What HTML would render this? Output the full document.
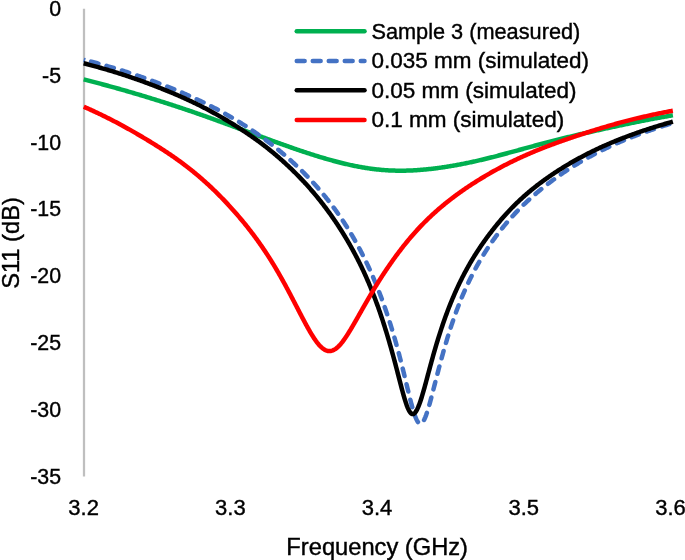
<!DOCTYPE html>
<html><head><meta charset="utf-8"><style>
html,body{margin:0;padding:0;background:#fff;overflow:hidden}
svg{display:block;will-change:transform}
text{font-family:"Liberation Sans", sans-serif;fill:#000;stroke:#000;stroke-width:0.4px}
</style></head><body>
<svg width="685" height="560" viewBox="0 0 685 560">
<rect width="685" height="560" fill="#fff"/>
<line x1="84.0" y1="8.75" x2="84.0" y2="476.4" stroke="#BFBFBF" stroke-width="2.25"/>
<g font-size="22.0"><text transform="translate(61.0,15.80) scale(0.97,1)" text-anchor="end">0</text><text transform="translate(61.0,82.66) scale(0.97,1)" text-anchor="end">-5</text><text transform="translate(61.0,149.52) scale(0.97,1)" text-anchor="end">-10</text><text transform="translate(61.0,216.38) scale(0.97,1)" text-anchor="end">-15</text><text transform="translate(61.0,283.24) scale(0.97,1)" text-anchor="end">-20</text><text transform="translate(61.0,350.10) scale(0.97,1)" text-anchor="end">-25</text><text transform="translate(61.0,416.96) scale(0.97,1)" text-anchor="end">-30</text><text transform="translate(61.0,483.82) scale(0.97,1)" text-anchor="end">-35</text><text transform="translate(83.65,515.3) scale(1.0,1)" text-anchor="middle">3.2</text><text transform="translate(230.35,515.3) scale(1.0,1)" text-anchor="middle">3.3</text><text transform="translate(377.05,515.3) scale(1.0,1)" text-anchor="middle">3.4</text><text transform="translate(523.75,515.3) scale(1.0,1)" text-anchor="middle">3.5</text><text transform="translate(670.45,515.3) scale(1.0,1)" text-anchor="middle">3.6</text></g>
<text x="377.2" y="555" font-size="23.7" text-anchor="middle">Frequency (GHz)</text>
<text transform="translate(19.3,243) rotate(-90)" x="0" y="0" font-size="23.7" text-anchor="middle">S11 (dB)</text>
<g fill="none" stroke-width="4.5" stroke-linejoin="round">
<path d="M83.65,79.42 L84.62,79.67 L85.59,79.91 L86.57,80.16 L87.54,80.40 L88.51,80.65 L89.49,80.90 L90.46,81.15 L91.43,81.40 L92.40,81.65 L93.38,81.90 L94.35,82.16 L95.32,82.41 L96.30,82.66 L97.27,82.92 L98.24,83.17 L99.21,83.43 L100.19,83.69 L101.16,83.95 L102.13,84.21 L103.10,84.47 L104.08,84.73 L105.05,84.99 L106.02,85.26 L106.99,85.52 L107.97,85.78 L108.94,86.05 L109.91,86.32 L110.88,86.58 L111.86,86.85 L112.83,87.12 L113.80,87.39 L114.77,87.66 L115.74,87.94 L116.72,88.21 L117.69,88.48 L118.66,88.76 L119.63,89.03 L120.60,89.31 L121.58,89.58 L122.55,89.86 L123.52,90.14 L124.49,90.42 L125.47,90.70 L126.44,90.98 L127.41,91.26 L128.38,91.55 L129.35,91.83 L130.33,92.11 L131.30,92.40 L132.27,92.68 L133.24,92.97 L134.21,93.26 L135.19,93.54 L136.16,93.83 L137.13,94.12 L138.10,94.41 L139.07,94.70 L140.05,94.99 L141.02,95.28 L141.99,95.58 L142.96,95.87 L143.94,96.16 L144.91,96.46 L145.88,96.75 L146.85,97.05 L147.83,97.35 L148.80,97.64 L149.77,97.94 L150.74,98.24 L151.72,98.54 L152.69,98.84 L153.66,99.14 L154.63,99.44 L155.61,99.75 L156.58,100.05 L157.55,100.35 L158.53,100.66 L159.50,100.96 L160.47,101.27 L161.44,101.58 L162.42,101.88 L163.39,102.19 L164.36,102.50 L165.34,102.81 L166.31,103.12 L167.28,103.44 L168.25,103.75 L169.23,104.06 L170.20,104.38 L171.17,104.69 L172.14,105.01 L173.12,105.32 L174.09,105.64 L175.06,105.96 L176.04,106.28 L177.01,106.60 L177.98,106.92 L178.95,107.24 L179.93,107.56 L180.90,107.88 L181.87,108.21 L182.84,108.53 L183.82,108.86 L184.79,109.18 L185.76,109.51 L186.73,109.84 L187.71,110.17 L188.68,110.50 L189.65,110.83 L190.62,111.16 L191.59,111.49 L192.57,111.83 L193.54,112.16 L194.51,112.50 L195.48,112.83 L196.45,113.17 L197.43,113.51 L198.40,113.85 L199.37,114.19 L200.34,114.53 L201.31,114.87 L202.28,115.21 L203.25,115.55 L204.23,115.89 L205.20,116.24 L206.17,116.58 L207.14,116.93 L208.11,117.28 L209.08,117.62 L210.02,117.96 L210.96,118.30 L211.91,118.64 L212.85,118.98 L213.79,119.32 L214.73,119.66 L215.67,120.00 L216.61,120.34 L217.55,120.68 L218.50,121.03 L219.44,121.37 L220.38,121.71 L221.32,122.06 L222.26,122.40 L223.20,122.74 L224.14,123.09 L225.09,123.43 L226.03,123.78 L226.97,124.12 L227.91,124.47 L228.85,124.82 L229.79,125.16 L230.74,125.51 L231.68,125.85 L232.62,126.20 L233.56,126.55 L234.50,126.89 L235.45,127.24 L236.39,127.59 L237.33,127.94 L238.27,128.28 L239.22,128.63 L240.16,128.98 L241.10,129.32 L242.04,129.67 L242.99,130.02 L243.93,130.37 L244.87,130.71 L245.82,131.06 L246.76,131.41 L247.70,131.76 L248.65,132.10 L249.59,132.45 L250.53,132.80 L251.48,133.15 L252.42,133.49 L253.36,133.84 L254.31,134.19 L255.25,134.53 L256.19,134.88 L257.14,135.23 L258.08,135.57 L259.02,135.92 L259.97,136.27 L260.91,136.61 L261.85,136.96 L262.80,137.30 L263.74,137.65 L264.68,137.99 L265.63,138.34 L266.57,138.68 L267.52,139.03 L268.46,139.37 L269.40,139.72 L270.35,140.06 L271.29,140.40 L272.23,140.75 L273.18,141.09 L274.12,141.43 L275.07,141.77 L276.01,142.11 L276.95,142.45 L277.90,142.79 L278.84,143.13 L279.78,143.47 L280.73,143.81 L281.67,144.15 L282.61,144.49 L283.56,144.82 L284.50,145.16 L285.44,145.49 L286.39,145.83 L287.33,146.16 L288.28,146.49 L289.22,146.82 L290.19,147.16 L291.17,147.50 L292.14,147.84 L293.11,148.18 L294.08,148.52 L295.06,148.85 L296.03,149.19 L297.00,149.52 L297.98,149.85 L298.95,150.19 L299.92,150.52 L300.90,150.84 L301.87,151.17 L302.84,151.50 L303.81,151.82 L304.79,152.14 L305.76,152.47 L306.73,152.78 L307.71,153.10 L308.68,153.42 L309.65,153.73 L310.62,154.05 L311.60,154.36 L312.57,154.67 L313.54,154.98 L314.52,155.28 L315.49,155.59 L316.46,155.89 L317.43,156.19 L318.41,156.49 L319.38,156.79 L320.35,157.08 L321.32,157.38 L322.30,157.67 L323.27,157.96 L324.24,158.24 L325.21,158.53 L326.18,158.81 L327.16,159.09 L328.13,159.37 L329.10,159.64 L330.07,159.91 L331.04,160.18 L332.02,160.45 L332.99,160.72 L333.96,160.98 L334.93,161.24 L335.90,161.50 L336.88,161.76 L337.85,162.01 L338.82,162.26 L339.79,162.51 L340.76,162.75 L341.73,162.99 L342.71,163.23 L343.71,163.47 L344.71,163.71 L345.71,163.95 L346.71,164.18 L347.71,164.41 L348.71,164.64 L349.71,164.86 L350.71,165.08 L351.71,165.30 L352.72,165.51 L353.72,165.72 L354.72,165.92 L355.72,166.12 L356.72,166.32 L357.72,166.51 L358.72,166.70 L359.72,166.89 L360.72,167.07 L361.73,167.25 L362.73,167.42 L363.73,167.59 L364.73,167.76 L365.73,167.92 L366.73,168.07 L367.73,168.23 L368.74,168.38 L369.74,168.52 L370.74,168.66 L371.74,168.79 L372.74,168.92 L373.75,169.05 L374.75,169.17 L375.75,169.29 L376.75,169.40 L377.75,169.51 L378.76,169.61 L379.76,169.71 L380.76,169.80 L381.76,169.89 L382.76,169.97 L383.77,170.05 L384.77,170.13 L385.77,170.20 L386.77,170.26 L387.78,170.32 L388.78,170.38 L389.78,170.43 L390.78,170.48 L391.78,170.52 L392.79,170.56 L393.79,170.59 L394.79,170.62 L395.79,170.64 L396.79,170.66 L397.80,170.67 L398.80,170.68 L399.80,170.69 L400.80,170.69 L401.80,170.69 L402.80,170.68 L403.81,170.67 L404.81,170.65 L405.81,170.63 L406.81,170.61 L407.81,170.58 L408.81,170.55 L409.81,170.51 L410.81,170.47 L411.82,170.43 L412.82,170.38 L413.82,170.33 L414.82,170.27 L415.82,170.21 L416.82,170.15 L417.82,170.08 L418.82,170.01 L419.83,169.94 L420.83,169.86 L421.83,169.78 L422.83,169.69 L423.83,169.60 L424.83,169.51 L425.83,169.42 L426.83,169.32 L427.84,169.22 L428.84,169.11 L429.84,169.00 L430.84,168.89 L431.84,168.78 L432.84,168.66 L433.85,168.54 L434.85,168.42 L435.85,168.29 L436.85,168.16 L437.85,168.03 L438.86,167.89 L439.86,167.76 L440.86,167.62 L441.86,167.47 L442.87,167.33 L443.87,167.18 L444.87,167.03 L445.88,166.87 L446.88,166.72 L447.88,166.56 L448.88,166.39 L449.89,166.23 L450.89,166.06 L451.89,165.89 L452.90,165.72 L453.90,165.54 L454.91,165.37 L455.91,165.19 L456.91,165.01 L457.92,164.82 L458.92,164.63 L459.92,164.44 L460.93,164.25 L461.93,164.06 L462.93,163.86 L463.94,163.66 L464.94,163.46 L465.95,163.26 L466.95,163.05 L467.95,162.84 L468.96,162.63 L469.96,162.42 L470.96,162.21 L471.97,161.99 L472.97,161.77 L473.97,161.55 L474.98,161.33 L475.98,161.10 L476.98,160.87 L477.99,160.64 L478.99,160.41 L479.99,160.18 L480.99,159.94 L481.99,159.71 L483.00,159.47 L483.97,159.23 L484.94,159.00 L485.91,158.76 L486.89,158.52 L487.86,158.28 L488.83,158.04 L489.80,157.80 L490.77,157.55 L491.75,157.31 L492.72,157.06 L493.69,156.81 L494.66,156.56 L495.63,156.31 L496.60,156.06 L497.57,155.80 L498.54,155.55 L499.51,155.29 L500.48,155.04 L501.45,154.78 L502.42,154.52 L503.39,154.26 L504.36,154.00 L505.33,153.74 L506.30,153.48 L507.27,153.21 L508.24,152.95 L509.21,152.69 L510.18,152.42 L511.15,152.16 L512.12,151.89 L513.09,151.63 L514.06,151.36 L515.03,151.10 L516.00,150.83 L516.97,150.56 L517.94,150.30 L518.91,150.03 L519.88,149.76 L520.85,149.50 L521.82,149.23 L522.79,148.96 L523.76,148.70 L524.73,148.43 L525.70,148.17 L526.67,147.90 L527.64,147.63 L528.61,147.37 L529.58,147.10 L530.55,146.84 L531.52,146.58 L532.49,146.31 L533.46,146.05 L534.43,145.79 L535.40,145.53 L536.37,145.27 L537.35,145.01 L538.32,144.75 L539.29,144.49 L540.26,144.23 L541.23,143.97 L542.20,143.71 L543.17,143.46 L544.15,143.20 L545.12,142.94 L546.09,142.69 L547.06,142.44 L548.04,142.18 L549.01,141.93 L549.98,141.68 L550.95,141.43 L551.93,141.18 L552.90,140.93 L553.87,140.68 L554.85,140.43 L555.82,140.19 L556.79,139.94 L557.76,139.70 L558.74,139.45 L559.71,139.21 L560.69,138.97 L561.66,138.72 L562.63,138.48 L563.61,138.24 L564.58,138.00 L565.55,137.77 L566.53,137.53 L567.50,137.29 L568.48,137.05 L569.45,136.82 L570.42,136.58 L571.40,136.35 L572.37,136.12 L573.35,135.88 L574.32,135.65 L575.30,135.42 L576.27,135.19 L577.24,134.96 L578.22,134.73 L579.19,134.50 L580.17,134.28 L581.14,134.05 L582.12,133.82 L583.09,133.60 L584.09,133.36 L585.10,133.13 L586.10,132.90 L587.11,132.67 L588.11,132.44 L589.11,132.22 L590.12,131.99 L591.12,131.76 L592.12,131.53 L593.13,131.31 L594.13,131.08 L595.13,130.86 L596.14,130.63 L597.14,130.41 L598.14,130.19 L599.15,129.96 L600.15,129.74 L601.15,129.52 L602.15,129.30 L603.16,129.08 L604.16,128.86 L605.16,128.64 L606.16,128.42 L607.17,128.20 L608.17,127.98 L609.17,127.76 L610.17,127.55 L611.18,127.33 L612.18,127.11 L613.18,126.90 L614.18,126.68 L615.18,126.47 L616.19,126.25 L617.19,126.04 L618.19,125.83 L619.19,125.61 L620.19,125.40 L621.19,125.19 L622.19,124.98 L623.20,124.77 L624.20,124.56 L625.20,124.35 L626.20,124.14 L627.20,123.93 L628.20,123.72 L629.20,123.52 L630.20,123.31 L631.21,123.11 L632.21,122.90 L633.21,122.70 L634.21,122.49 L635.21,122.29 L636.21,122.09 L637.21,121.89 L638.21,121.69 L639.21,121.49 L640.21,121.29 L641.21,121.09 L642.21,120.90 L643.22,120.70 L644.22,120.50 L645.22,120.31 L646.22,120.12 L647.22,119.92 L648.22,119.73 L649.22,119.54 L650.22,119.35 L651.22,119.16 L652.22,118.97 L653.22,118.78 L654.23,118.60 L655.23,118.41 L656.23,118.23 L657.23,118.04 L658.23,117.86 L659.23,117.68 L660.23,117.50 L661.23,117.32 L662.23,117.14 L663.24,116.96 L664.24,116.78 L665.24,116.61 L666.24,116.43 L667.24,116.26 L668.24,116.09 L669.24,115.91 L670.24,115.74 L671.25,115.57 L672.25,115.40 L672.90,115.29" stroke="#00B050"/>
<path d="M83.65,59.72 L84.62,59.96 L85.59,60.21 L86.56,60.46 L87.54,60.71 L88.51,60.96 L89.48,61.22 L90.45,61.47 L91.42,61.73 L92.40,61.98 L93.37,62.24 L94.34,62.50 L95.31,62.76 L96.28,63.03 L97.26,63.29 L98.23,63.56 L99.20,63.82 L100.17,64.09 L101.14,64.36 L102.11,64.63 L103.09,64.91 L104.06,65.18 L105.03,65.46 L106.00,65.74 L106.97,66.02 L107.94,66.30 L108.92,66.58 L109.89,66.86 L110.86,67.15 L111.83,67.44 L112.80,67.72 L113.77,68.01 L114.74,68.31 L115.72,68.60 L116.69,68.90 L117.66,69.19 L118.63,69.49 L119.60,69.79 L120.57,70.09 L121.54,70.40 L122.51,70.70 L123.49,71.01 L124.46,71.32 L125.43,71.63 L126.40,71.94 L127.37,72.25 L128.34,72.57 L129.31,72.88 L130.28,73.20 L131.25,73.52 L132.22,73.84 L133.19,74.17 L134.17,74.49 L135.14,74.82 L136.11,75.15 L137.08,75.48 L138.05,75.81 L139.02,76.14 L139.99,76.48 L140.96,76.81 L141.93,77.15 L142.90,77.49 L143.88,77.84 L144.85,78.18 L145.82,78.52 L146.76,78.86 L147.70,79.20 L148.64,79.54 L149.59,79.88 L150.53,80.22 L151.47,80.57 L152.41,80.91 L153.35,81.26 L154.30,81.61 L155.24,81.96 L156.18,82.31 L157.12,82.67 L158.07,83.02 L159.01,83.38 L159.95,83.74 L160.89,84.10 L161.84,84.47 L162.78,84.83 L163.72,85.20 L164.67,85.57 L165.61,85.94 L166.55,86.31 L167.50,86.68 L168.44,87.06 L169.38,87.43 L170.33,87.81 L171.27,88.19 L172.22,88.58 L173.16,88.96 L174.10,89.35 L175.05,89.74 L175.99,90.13 L176.94,90.52 L177.88,90.91 L178.83,91.31 L179.77,91.71 L180.71,92.11 L181.66,92.51 L182.60,92.92 L183.55,93.32 L184.49,93.73 L185.44,94.15 L186.38,94.56 L187.30,94.96 L188.22,95.37 L189.13,95.78 L190.05,96.19 L190.96,96.60 L191.88,97.01 L192.79,97.43 L193.71,97.85 L194.63,98.27 L195.54,98.69 L196.46,99.12 L197.37,99.54 L198.29,99.97 L199.21,100.41 L200.12,100.84 L201.04,101.28 L201.96,101.72 L202.87,102.16 L203.79,102.61 L204.70,103.06 L205.62,103.51 L206.54,103.96 L207.45,104.41 L208.37,104.87 L209.28,105.33 L210.20,105.80 L211.12,106.26 L212.03,106.73 L212.95,107.21 L213.86,107.68 L214.78,108.16 L215.67,108.62 L216.55,109.09 L217.44,109.56 L218.32,110.03 L219.21,110.51 L220.10,110.99 L220.98,111.47 L221.87,111.95 L222.76,112.44 L223.64,112.93 L224.53,113.42 L225.41,113.92 L226.30,114.42 L227.18,114.92 L228.07,115.42 L228.96,115.93 L229.84,116.44 L230.73,116.96 L231.61,117.47 L232.50,117.99 L233.38,118.51 L234.27,119.04 L235.15,119.57 L236.04,120.10 L236.90,120.62 L237.75,121.14 L238.61,121.66 L239.46,122.19 L240.32,122.72 L241.17,123.25 L242.03,123.79 L242.88,124.33 L243.74,124.87 L244.60,125.42 L245.45,125.96 L246.31,126.52 L247.16,127.07 L248.02,127.63 L248.87,128.19 L249.73,128.76 L250.58,129.33 L251.44,129.90 L252.29,130.47 L253.14,131.05 L254.00,131.63 L254.82,132.20 L255.65,132.77 L256.47,133.34 L257.30,133.92 L258.12,134.50 L258.95,135.08 L259.77,135.67 L260.60,136.25 L261.42,136.85 L262.25,137.44 L263.07,138.04 L263.90,138.65 L264.72,139.25 L265.55,139.87 L266.37,140.48 L267.20,141.10 L268.02,141.72 L268.85,142.35 L269.64,142.95 L270.44,143.56 L271.23,144.18 L272.03,144.79 L272.82,145.42 L273.62,146.04 L274.41,146.67 L275.21,147.30 L276.00,147.94 L276.80,148.58 L277.59,149.22 L278.39,149.87 L279.18,150.52 L279.98,151.18 L280.77,151.83 L281.57,152.50 L282.36,153.17 L283.13,153.81 L283.89,154.46 L284.66,155.12 L285.43,155.78 L286.19,156.44 L286.96,157.10 L287.72,157.77 L288.49,158.45 L289.26,159.13 L290.02,159.81 L290.79,160.50 L291.55,161.19 L292.32,161.88 L293.09,162.58 L293.82,163.26 L294.56,163.94 L295.30,164.62 L296.03,165.31 L296.77,166.01 L297.51,166.71 L298.24,167.41 L298.98,168.11 L299.72,168.83 L300.45,169.54 L301.19,170.26 L301.93,170.99 L302.66,171.72 L303.40,172.45 L304.11,173.16 L304.82,173.87 L305.52,174.59 L306.23,175.31 L306.94,176.04 L307.65,176.77 L308.35,177.51 L309.06,178.25 L309.77,179.00 L310.47,179.75 L311.18,180.50 L311.89,181.26 L312.59,182.03 L313.27,182.77 L313.95,183.51 L314.63,184.26 L315.30,185.01 L315.98,185.77 L316.66,186.54 L317.34,187.30 L318.01,188.08 L318.69,188.86 L319.37,189.64 L320.04,190.43 L320.72,191.22 L321.37,191.99 L322.01,192.76 L322.66,193.53 L323.31,194.31 L323.95,195.10 L324.60,195.89 L325.25,196.68 L325.89,197.48 L326.54,198.29 L327.19,199.10 L327.83,199.92 L328.48,200.74 L329.10,201.53 L329.71,202.33 L330.33,203.13 L330.95,203.94 L331.56,204.75 L332.18,205.57 L332.79,206.39 L333.41,207.22 L334.03,208.05 L334.64,208.89 L335.26,209.74 L335.85,210.55 L336.43,211.37 L337.02,212.19 L337.60,213.02 L338.19,213.85 L338.78,214.69 L339.36,215.54 L339.95,216.39 L340.53,217.25 L341.12,218.11 L341.71,218.98 L342.26,219.81 L342.82,220.65 L343.38,221.49 L343.93,222.34 L344.49,223.19 L345.04,224.05 L345.60,224.92 L346.16,225.79 L346.71,226.67 L347.27,227.55 L347.82,228.44 L348.38,229.34 L348.91,230.19 L349.43,231.05 L349.96,231.92 L350.49,232.79 L351.01,233.67 L351.54,234.56 L352.07,235.45 L352.59,236.35 L353.12,237.25 L353.65,238.17 L354.17,239.08 L354.67,239.96 L355.17,240.83 L355.67,241.72 L356.16,242.61 L356.66,243.51 L357.16,244.41 L357.66,245.32 L358.15,246.24 L358.65,247.16 L359.15,248.09 L359.65,249.03 L360.11,249.91 L360.58,250.81 L361.05,251.71 L361.52,252.61 L361.99,253.53 L362.46,254.44 L362.93,255.37 L363.40,256.30 L363.87,257.24 L364.33,258.19 L364.80,259.14 L365.24,260.04 L365.68,260.94 L366.12,261.86 L366.56,262.77 L367.00,263.70 L367.45,264.63 L367.89,265.57 L368.33,266.51 L368.77,267.46 L369.21,268.42 L369.65,269.39 L370.09,270.36 L370.50,271.27 L370.91,272.19 L371.33,273.12 L371.74,274.05 L372.15,274.99 L372.56,275.94 L372.98,276.89 L373.39,277.85 L373.80,278.82 L374.21,279.79 L374.63,280.77 L375.04,281.76 L375.42,282.69 L375.81,283.62 L376.19,284.55 L376.58,285.50 L376.96,286.45 L377.34,287.40 L377.73,288.37 L378.11,289.34 L378.50,290.31 L378.88,291.30 L379.27,292.29 L379.65,293.29 L380.04,294.29 L380.39,295.23 L380.75,296.17 L381.10,297.12 L381.46,298.07 L381.81,299.03 L382.17,300.00 L382.53,300.97 L382.88,301.95 L383.24,302.94 L383.60,303.93 L383.95,304.93 L384.31,305.94 L384.67,306.96 L385.02,307.98 L385.38,309.01 L385.71,309.96 L386.04,310.92 L386.36,311.88 L386.69,312.85 L387.02,313.82 L387.35,314.81 L387.68,315.79 L388.00,316.79 L388.33,317.79 L388.66,318.80 L388.99,319.81 L389.32,320.84 L389.65,321.86 L389.98,322.90 L390.31,323.94 L390.63,324.99 L390.93,325.95 L391.23,326.92 L391.53,327.89 L391.83,328.87 L392.13,329.85 L392.43,330.84 L392.73,331.84 L393.03,332.84 L393.33,333.85 L393.63,334.86 L393.93,335.88 L394.23,336.91 L394.53,337.94 L394.83,338.98 L395.13,340.03 L395.43,341.08 L395.73,342.14 L396.03,343.20 L396.33,344.27 L396.59,345.24 L396.86,346.21 L397.13,347.19 L397.40,348.17 L397.67,349.16 L397.94,350.16 L398.21,351.15 L398.48,352.16 L398.75,353.16 L399.02,354.18 L399.29,355.19 L399.56,356.22 L399.82,357.24 L400.09,358.27 L400.36,359.31 L400.63,360.35 L400.90,361.40 L401.16,362.44 L401.43,363.50 L401.70,364.55 L401.97,365.61 L402.23,366.68 L402.50,367.75 L402.77,368.82 L403.03,369.89 L403.30,370.97 L403.57,372.05 L403.83,373.14 L404.10,374.22 L404.36,375.31 L404.63,376.40 L404.90,377.49 L405.13,378.47 L405.37,379.44 L405.60,380.41 L405.84,381.39 L406.07,382.36 L406.31,383.34 L406.54,384.31 L406.78,385.29 L407.01,386.26 L407.28,387.35 L407.54,388.44 L407.80,389.53 L408.07,390.62 L408.33,391.70 L408.59,392.78 L408.86,393.86 L409.12,394.92 L409.38,395.99 L409.65,397.04 L409.91,398.09 L410.17,399.14 L410.44,400.17 L410.70,401.19 L410.96,402.21 L411.22,403.21 L411.49,404.20 L411.75,405.17 L412.04,406.24 L412.34,407.30 L412.63,408.33 L412.92,409.34 L413.21,410.33 L413.50,411.29 L413.83,412.32 L414.15,413.32 L414.47,414.28 L414.82,415.29 L415.17,416.26 L415.55,417.25 L415.93,418.18 L416.34,419.11 L416.78,420.02 L417.28,420.94 L417.83,421.82 L418.47,422.63 L419.23,423.30 L420.17,423.68 L421.16,423.52 L422.00,422.94 L422.70,422.17 L423.29,421.32 L423.82,420.41 L424.29,419.49 L424.73,418.54 L425.15,417.58 L425.53,416.63 L425.92,415.62 L426.27,414.64 L426.63,413.62 L426.95,412.65 L427.28,411.65 L427.61,410.62 L427.90,409.67 L428.20,408.69 L428.50,407.69 L428.79,406.67 L429.09,405.64 L429.39,404.59 L429.69,403.52 L429.95,402.55 L430.22,401.57 L430.49,400.58 L430.76,399.59 L431.03,398.58 L431.29,397.57 L431.56,396.55 L431.83,395.53 L432.10,394.50 L432.37,393.47 L432.64,392.43 L432.91,391.39 L433.17,390.35 L433.44,389.31 L433.71,388.26 L433.98,387.21 L434.25,386.16 L434.52,385.11 L434.79,384.07 L435.06,383.02 L435.33,381.97 L435.60,380.92 L435.87,379.88 L436.14,378.83 L436.40,377.79 L436.67,376.75 L436.94,375.71 L437.21,374.68 L437.48,373.64 L437.75,372.61 L438.02,371.59 L438.29,370.56 L438.55,369.54 L438.82,368.53 L439.09,367.52 L439.36,366.51 L439.63,365.50 L439.89,364.50 L440.16,363.51 L440.43,362.51 L440.70,361.53 L440.96,360.54 L441.23,359.56 L441.50,358.59 L441.76,357.62 L442.03,356.65 L442.32,355.59 L442.62,354.53 L442.91,353.47 L443.21,352.42 L443.50,351.38 L443.80,350.34 L444.09,349.31 L444.38,348.29 L444.68,347.27 L444.97,346.26 L445.26,345.25 L445.56,344.25 L445.85,343.26 L446.14,342.27 L446.44,341.29 L446.73,340.31 L447.02,339.34 L447.31,338.38 L447.60,337.42 L447.92,336.38 L448.25,335.34 L448.57,334.31 L448.89,333.28 L449.21,332.26 L449.53,331.25 L449.85,330.25 L450.17,329.25 L450.49,328.26 L450.81,327.28 L451.13,326.31 L451.45,325.34 L451.77,324.38 L452.09,323.42 L452.41,322.47 L452.76,321.45 L453.11,320.43 L453.46,319.41 L453.81,318.41 L454.16,317.41 L454.50,316.43 L454.85,315.44 L455.20,314.47 L455.55,313.50 L455.90,312.54 L456.25,311.59 L456.60,310.65 L456.95,309.71 L457.33,308.70 L457.71,307.70 L458.09,306.71 L458.47,305.72 L458.85,304.75 L459.23,303.78 L459.61,302.81 L459.99,301.86 L460.37,300.91 L460.75,299.98 L461.13,299.04 L461.51,298.12 L461.92,297.13 L462.33,296.15 L462.74,295.18 L463.15,294.21 L463.57,293.26 L463.98,292.31 L464.39,291.37 L464.80,290.44 L465.21,289.51 L465.62,288.59 L466.06,287.62 L466.50,286.65 L466.94,285.69 L467.38,284.74 L467.83,283.79 L468.27,282.86 L468.71,281.93 L469.15,281.01 L469.59,280.09 L470.03,279.19 L470.48,278.29 L470.95,277.34 L471.42,276.40 L471.89,275.46 L472.36,274.53 L472.84,273.62 L473.31,272.70 L473.78,271.80 L474.25,270.90 L474.73,270.01 L475.20,269.13 L475.70,268.20 L476.20,267.28 L476.70,266.37 L477.21,265.46 L477.71,264.56 L478.21,263.67 L478.71,262.79 L479.22,261.91 L479.72,261.04 L480.25,260.13 L480.79,259.22 L481.32,258.33 L481.85,257.44 L482.38,256.55 L482.92,255.68 L483.45,254.81 L483.98,253.95 L484.51,253.10 L485.05,252.25 L485.61,251.37 L486.17,250.49 L486.74,249.62 L487.30,248.75 L487.86,247.90 L488.42,247.05 L488.99,246.21 L489.55,245.37 L490.11,244.54 L490.70,243.68 L491.30,242.82 L491.89,241.97 L492.48,241.13 L493.07,240.29 L493.67,239.46 L494.26,238.64 L494.85,237.82 L495.44,237.02 L496.07,236.17 L496.69,235.34 L497.31,234.51 L497.93,233.69 L498.55,232.87 L499.18,232.07 L499.80,231.27 L500.42,230.47 L501.04,229.68 L501.69,228.86 L502.34,228.05 L503.00,227.25 L503.65,226.45 L504.30,225.66 L504.95,224.87 L505.60,224.09 L506.25,223.32 L506.90,222.55 L507.55,221.79 L508.23,221.00 L508.92,220.22 L509.60,219.45 L510.28,218.68 L510.96,217.92 L511.64,217.16 L512.32,216.41 L513.00,215.66 L513.68,214.92 L514.39,214.16 L515.10,213.40 L515.81,212.65 L516.52,211.90 L517.23,211.16 L517.94,210.43 L518.65,209.70 L519.36,208.98 L520.06,208.26 L520.77,207.55 L521.48,206.85 L522.22,206.12 L522.96,205.39 L523.70,204.68 L524.44,203.96 L525.18,203.26 L525.91,202.56 L526.65,201.86 L527.39,201.17 L528.13,200.49 L528.87,199.81 L529.63,199.11 L530.40,198.41 L531.17,197.72 L531.94,197.04 L532.70,196.36 L533.47,195.68 L534.24,195.01 L535.00,194.35 L535.77,193.69 L536.54,193.04 L537.30,192.39 L538.07,191.74 L538.86,191.08 L539.66,190.42 L540.45,189.76 L541.25,189.11 L542.04,188.47 L542.84,187.83 L543.63,187.19 L544.43,186.56 L545.22,185.94 L546.02,185.31 L546.81,184.70 L547.60,184.08 L548.40,183.47 L549.22,182.85 L550.04,182.22 L550.86,181.61 L551.69,180.99 L552.51,180.38 L553.33,179.78 L554.15,179.18 L554.97,178.58 L555.80,177.99 L556.62,177.40 L557.44,176.82 L558.26,176.24 L559.08,175.66 L559.90,175.09 L560.75,174.50 L561.60,173.91 L562.45,173.33 L563.30,172.75 L564.15,172.18 L565.00,171.61 L565.85,171.05 L566.70,170.49 L567.55,169.93 L568.40,169.37 L569.25,168.82 L570.10,168.28 L570.95,167.74 L571.80,167.20 L572.65,166.66 L573.50,166.13 L574.35,165.60 L575.23,165.06 L576.10,164.52 L576.98,163.99 L577.86,163.46 L578.74,162.93 L579.62,162.40 L580.50,161.88 L581.38,161.37 L582.26,160.85 L583.14,160.35 L584.02,159.84 L584.90,159.34 L585.78,158.84 L586.66,158.34 L587.54,157.85 L588.42,157.36 L589.30,156.88 L590.18,156.40 L591.06,155.92 L591.94,155.44 L592.85,154.96 L593.76,154.47 L594.67,153.99 L595.58,153.52 L596.49,153.04 L597.40,152.57 L598.31,152.11 L599.23,151.64 L600.14,151.18 L601.05,150.73 L601.96,150.27 L602.87,149.82 L603.78,149.38 L604.70,148.93 L605.61,148.49 L606.52,148.06 L607.43,147.62 L608.34,147.19 L609.26,146.76 L610.17,146.34 L611.08,145.92 L612.00,145.50 L612.91,145.08 L613.82,144.67 L614.74,144.26 L615.65,143.85 L616.59,143.43 L617.54,143.02 L618.48,142.61 L619.42,142.20 L620.37,141.79 L621.31,141.39 L622.25,140.99 L623.20,140.59 L624.14,140.20 L625.09,139.81 L626.03,139.42 L626.97,139.03 L627.92,138.65 L628.86,138.27 L629.81,137.89 L630.75,137.52 L631.70,137.14 L632.64,136.77 L633.58,136.40 L634.53,136.04 L635.47,135.68 L636.42,135.32 L637.36,134.96 L638.31,134.60 L639.25,134.25 L640.20,133.90 L641.14,133.55 L642.09,133.21 L643.03,132.86 L643.98,132.52 L644.92,132.18 L645.87,131.84 L646.81,131.51 L647.76,131.18 L648.70,130.85 L649.65,130.52 L650.62,130.18 L651.60,129.85 L652.57,129.51 L653.54,129.18 L654.52,128.85 L655.49,128.53 L656.47,128.20 L657.44,127.88 L658.41,127.56 L659.39,127.24 L660.36,126.92 L661.34,126.61 L662.31,126.30 L663.28,125.98 L664.26,125.67 L665.23,125.37 L666.20,125.06 L667.18,124.76 L668.15,124.45 L669.13,124.15 L670.10,123.85 L671.07,123.56 L672.05,123.26 L672.90,123.00" stroke="#4472C4" stroke-dasharray="7.6 8.44" stroke-dashoffset="8.4" stroke-linecap="round"/>
<path d="M83.65,59.9 L85.2,60.3" stroke="#4472C4"/>
<path d="M83.64,63.27 L84.61,63.52 L85.59,63.78 L86.56,64.03 L87.53,64.29 L88.51,64.55 L89.48,64.81 L90.45,65.07 L91.43,65.33 L92.40,65.59 L93.38,65.86 L94.35,66.12 L95.32,66.39 L96.30,66.66 L97.27,66.93 L98.25,67.20 L99.22,67.47 L100.19,67.75 L101.17,68.02 L102.14,68.30 L103.11,68.58 L104.09,68.86 L105.06,69.14 L106.03,69.43 L107.01,69.71 L107.98,70.00 L108.96,70.29 L109.93,70.58 L110.90,70.87 L111.87,71.17 L112.85,71.46 L113.82,71.76 L114.79,72.06 L115.77,72.36 L116.74,72.66 L117.71,72.97 L118.69,73.28 L119.66,73.58 L120.63,73.89 L121.60,74.21 L122.58,74.52 L123.55,74.84 L124.52,75.15 L125.49,75.47 L126.46,75.80 L127.44,76.12 L128.41,76.44 L129.38,76.77 L130.35,77.10 L131.32,77.43 L132.30,77.76 L133.27,78.10 L134.24,78.43 L135.21,78.77 L136.18,79.11 L137.15,79.45 L138.13,79.79 L139.10,80.14 L140.04,80.47 L140.98,80.81 L141.92,81.15 L142.87,81.49 L143.81,81.84 L144.75,82.18 L145.69,82.53 L146.64,82.87 L147.58,83.22 L148.52,83.57 L149.46,83.93 L150.41,84.28 L151.35,84.64 L152.29,84.99 L153.23,85.35 L154.18,85.71 L155.12,86.08 L156.06,86.44 L157.01,86.80 L157.95,87.17 L158.89,87.54 L159.84,87.91 L160.78,88.28 L161.72,88.66 L162.67,89.04 L163.61,89.41 L164.56,89.79 L165.50,90.17 L166.45,90.56 L167.39,90.94 L168.33,91.33 L169.28,91.72 L170.22,92.11 L171.17,92.50 L172.11,92.90 L173.06,93.29 L174.00,93.69 L174.95,94.09 L175.89,94.50 L176.84,94.90 L177.78,95.31 L178.73,95.72 L179.67,96.13 L180.62,96.55 L181.53,96.95 L182.45,97.36 L183.36,97.77 L184.28,98.18 L185.20,98.59 L186.11,99.01 L187.03,99.43 L187.94,99.85 L188.86,100.27 L189.77,100.70 L190.68,101.12 L191.60,101.56 L192.51,101.99 L193.43,102.43 L194.34,102.87 L195.26,103.31 L196.17,103.75 L197.08,104.20 L198.00,104.65 L198.91,105.11 L199.82,105.56 L200.74,106.02 L201.65,106.48 L202.56,106.95 L203.47,107.42 L204.38,107.89 L205.30,108.36 L206.21,108.84 L207.12,109.32 L208.03,109.80 L208.94,110.29 L209.82,110.76 L210.71,111.23 L211.59,111.71 L212.47,112.19 L213.35,112.68 L214.23,113.16 L215.11,113.65 L215.99,114.15 L216.87,114.64 L217.75,115.14 L218.64,115.64 L219.52,116.14 L220.40,116.65 L221.28,117.15 L222.16,117.66 L223.04,118.18 L223.92,118.69 L224.80,119.21 L225.69,119.73 L226.57,120.26 L227.45,120.79 L228.33,121.32 L229.21,121.85 L230.09,122.39 L230.98,122.92 L231.83,123.45 L232.68,123.97 L233.53,124.50 L234.39,125.03 L235.24,125.57 L236.09,126.10 L236.95,126.64 L237.80,127.19 L238.66,127.73 L239.51,128.28 L240.36,128.83 L241.22,129.39 L242.07,129.94 L242.93,130.51 L243.78,131.07 L244.64,131.64 L245.49,132.21 L246.35,132.78 L247.20,133.36 L248.06,133.94 L248.91,134.52 L249.74,135.08 L250.57,135.65 L251.39,136.23 L252.22,136.80 L253.04,137.38 L253.87,137.97 L254.69,138.55 L255.52,139.14 L256.35,139.74 L257.17,140.34 L258.00,140.94 L258.82,141.54 L259.65,142.15 L260.47,142.77 L261.30,143.38 L262.12,144.00 L262.95,144.63 L263.77,145.26 L264.56,145.87 L265.36,146.48 L266.15,147.10 L266.95,147.73 L267.74,148.35 L268.53,148.98 L269.33,149.62 L270.12,150.26 L270.91,150.90 L271.70,151.55 L272.49,152.20 L273.29,152.85 L274.08,153.51 L274.87,154.18 L275.66,154.84 L276.45,155.52 L277.21,156.17 L277.98,156.82 L278.74,157.48 L279.50,158.15 L280.26,158.82 L281.02,159.49 L281.78,160.16 L282.54,160.84 L283.30,161.53 L284.06,162.22 L284.82,162.91 L285.59,163.61 L286.35,164.31 L287.11,165.02 L287.84,165.70 L288.57,166.39 L289.30,167.08 L290.03,167.78 L290.76,168.48 L291.50,169.18 L292.23,169.89 L292.96,170.60 L293.69,171.32 L294.42,172.04 L295.15,172.77 L295.89,173.50 L296.62,174.24 L297.35,174.98 L298.05,175.69 L298.76,176.41 L299.46,177.13 L300.16,177.86 L300.87,178.60 L301.57,179.33 L302.27,180.08 L302.98,180.82 L303.68,181.57 L304.38,182.33 L305.09,183.09 L305.79,183.86 L306.46,184.60 L307.14,185.34 L307.81,186.09 L308.49,186.84 L309.16,187.60 L309.84,188.37 L310.51,189.13 L311.19,189.91 L311.86,190.69 L312.54,191.47 L313.21,192.26 L313.89,193.05 L314.53,193.82 L315.18,194.59 L315.82,195.36 L316.47,196.14 L317.11,196.92 L317.76,197.71 L318.41,198.51 L319.05,199.31 L319.70,200.11 L320.34,200.93 L320.99,201.74 L321.63,202.57 L322.25,203.36 L322.87,204.15 L323.48,204.95 L324.10,205.76 L324.72,206.57 L325.34,207.39 L325.95,208.21 L326.57,209.04 L327.19,209.87 L327.80,210.71 L328.42,211.55 L329.01,212.36 L329.60,213.18 L330.19,214.00 L330.77,214.83 L331.36,215.66 L331.95,216.50 L332.54,217.34 L333.13,218.19 L333.72,219.05 L334.31,219.91 L334.90,220.77 L335.46,221.60 L336.02,222.44 L336.58,223.28 L337.14,224.12 L337.70,224.98 L338.27,225.83 L338.83,226.70 L339.39,227.57 L339.95,228.44 L340.52,229.32 L341.08,230.21 L341.62,231.06 L342.15,231.91 L342.69,232.77 L343.22,233.63 L343.76,234.50 L344.29,235.38 L344.83,236.26 L345.37,237.15 L345.90,238.04 L346.44,238.94 L346.98,239.85 L347.49,240.71 L347.99,241.58 L348.50,242.45 L349.01,243.33 L349.52,244.22 L350.03,245.11 L350.54,246.01 L351.05,246.92 L351.56,247.83 L352.07,248.75 L352.58,249.67 L353.06,250.55 L353.54,251.44 L354.03,252.33 L354.51,253.22 L354.99,254.12 L355.47,255.03 L355.95,255.95 L356.43,256.87 L356.92,257.80 L357.40,258.73 L357.88,259.68 L358.36,260.63 L358.81,261.52 L359.26,262.42 L359.72,263.33 L360.17,264.25 L360.62,265.17 L361.07,266.10 L361.52,267.04 L361.97,267.98 L362.42,268.93 L362.88,269.89 L363.33,270.85 L363.78,271.82 L364.20,272.73 L364.62,273.65 L365.04,274.58 L365.46,275.51 L365.88,276.45 L366.30,277.40 L366.72,278.35 L367.14,279.31 L367.56,280.27 L367.98,281.25 L368.40,282.23 L368.82,283.22 L369.21,284.14 L369.60,285.07 L369.99,286.01 L370.38,286.95 L370.77,287.90 L371.16,288.86 L371.54,289.82 L371.93,290.79 L372.32,291.76 L372.71,292.75 L373.10,293.74 L373.49,294.74 L373.88,295.74 L374.24,296.67 L374.60,297.61 L374.96,298.56 L375.31,299.51 L375.67,300.47 L376.03,301.43 L376.39,302.41 L376.75,303.38 L377.11,304.37 L377.47,305.36 L377.83,306.36 L378.19,307.36 L378.55,308.37 L378.90,309.39 L379.26,310.42 L379.59,311.36 L379.92,312.32 L380.25,313.27 L380.58,314.24 L380.91,315.21 L381.24,316.18 L381.57,317.17 L381.90,318.16 L382.22,319.15 L382.55,320.15 L382.88,321.16 L383.21,322.17 L383.54,323.19 L383.87,324.22 L384.20,325.25 L384.53,326.29 L384.86,327.33 L385.15,328.29 L385.45,329.25 L385.75,330.22 L386.05,331.19 L386.35,332.16 L386.65,333.15 L386.95,334.13 L387.25,335.13 L387.55,336.13 L387.85,337.13 L388.14,338.14 L388.44,339.15 L388.74,340.17 L389.04,341.20 L389.34,342.22 L389.64,343.26 L389.94,344.30 L390.24,345.34 L390.54,346.39 L390.83,347.45 L391.13,348.51 L391.43,349.57 L391.73,350.64 L392.00,351.61 L392.27,352.58 L392.54,353.55 L392.80,354.53 L393.07,355.51 L393.34,356.49 L393.61,357.48 L393.88,358.47 L394.14,359.46 L394.41,360.46 L394.68,361.45 L394.94,362.46 L395.21,363.46 L395.48,364.46 L395.74,365.47 L396.01,366.48 L396.27,367.49 L396.54,368.50 L396.80,369.52 L397.07,370.53 L397.33,371.55 L397.60,372.56 L397.86,373.58 L398.12,374.59 L398.39,375.61 L398.65,376.62 L398.91,377.64 L399.17,378.65 L399.43,379.66 L399.69,380.66 L399.95,381.67 L400.21,382.67 L400.47,383.67 L400.73,384.66 L400.99,385.65 L401.25,386.64 L401.51,387.62 L401.76,388.59 L402.05,389.66 L402.34,390.72 L402.62,391.78 L402.91,392.82 L403.19,393.85 L403.48,394.87 L403.76,395.87 L404.05,396.86 L404.33,397.84 L404.65,398.89 L404.96,399.92 L405.27,400.92 L405.59,401.90 L405.90,402.86 L406.24,403.87 L406.58,404.84 L406.96,405.85 L407.33,406.82 L407.73,407.80 L408.13,408.72 L408.56,409.64 L409.02,410.54 L409.53,411.43 L410.10,412.29 L410.75,413.07 L411.52,413.74 L412.45,414.12 L413.47,414.00 L414.35,413.45 L415.06,412.74 L415.67,411.94 L416.23,411.08 L416.73,410.20 L417.20,409.28 L417.64,408.35 L418.06,407.42 L418.47,406.42 L418.86,405.46 L419.24,404.45 L419.60,403.48 L419.96,402.48 L420.31,401.45 L420.64,400.48 L420.96,399.49 L421.28,398.47 L421.61,397.44 L421.93,396.39 L422.23,395.42 L422.52,394.44 L422.81,393.45 L423.10,392.44 L423.40,391.43 L423.69,390.40 L423.98,389.37 L424.27,388.33 L424.56,387.28 L424.85,386.23 L425.15,385.17 L425.44,384.11 L425.73,383.04 L426.02,381.97 L426.28,381.00 L426.54,380.03 L426.80,379.06 L427.06,378.09 L427.32,377.12 L427.58,376.15 L427.84,375.18 L428.10,374.20 L428.36,373.23 L428.62,372.26 L428.88,371.29 L429.14,370.32 L429.40,369.35 L429.66,368.38 L429.95,367.31 L430.24,366.24 L430.53,365.18 L430.82,364.11 L431.11,363.05 L431.40,361.99 L431.69,360.94 L431.98,359.89 L432.27,358.84 L432.56,357.80 L432.85,356.76 L433.14,355.73 L433.43,354.70 L433.72,353.68 L434.01,352.66 L434.30,351.64 L434.59,350.63 L434.89,349.63 L435.18,348.63 L435.47,347.63 L435.76,346.64 L436.05,345.65 L436.35,344.67 L436.64,343.70 L436.93,342.73 L437.22,341.77 L437.51,340.81 L437.84,339.76 L438.16,338.71 L438.48,337.68 L438.80,336.65 L439.12,335.62 L439.45,334.61 L439.77,333.60 L440.09,332.59 L440.41,331.60 L440.74,330.60 L441.06,329.62 L441.38,328.64 L441.70,327.67 L442.03,326.70 L442.35,325.74 L442.67,324.79 L442.99,323.84 L443.35,322.82 L443.70,321.80 L444.05,320.79 L444.41,319.78 L444.76,318.79 L445.11,317.80 L445.46,316.81 L445.82,315.84 L446.17,314.87 L446.53,313.91 L446.88,312.95 L447.23,312.00 L447.59,311.06 L447.97,310.05 L448.36,309.05 L448.74,308.05 L449.12,307.06 L449.51,306.08 L449.89,305.11 L450.28,304.14 L450.67,303.18 L451.05,302.23 L451.44,301.28 L451.82,300.35 L452.21,299.42 L452.59,298.49 L453.01,297.51 L453.43,296.53 L453.84,295.56 L454.26,294.60 L454.68,293.64 L455.10,292.69 L455.51,291.75 L455.93,290.82 L456.35,289.90 L456.77,288.98 L457.19,288.07 L457.63,287.10 L458.08,286.14 L458.53,285.19 L458.98,284.24 L459.43,283.31 L459.88,282.38 L460.33,281.46 L460.78,280.54 L461.23,279.64 L461.68,278.74 L462.16,277.79 L462.64,276.85 L463.12,275.91 L463.60,274.98 L464.08,274.06 L464.56,273.15 L465.04,272.25 L465.53,271.35 L466.01,270.46 L466.49,269.58 L467.00,268.65 L467.51,267.73 L468.02,266.82 L468.53,265.91 L469.05,265.01 L469.56,264.12 L470.07,263.24 L470.58,262.36 L471.09,261.49 L471.60,260.63 L472.15,259.73 L472.69,258.83 L473.23,257.94 L473.77,257.06 L474.31,256.18 L474.85,255.32 L475.40,254.46 L475.94,253.60 L476.48,252.76 L477.05,251.87 L477.62,250.99 L478.19,250.12 L478.76,249.26 L479.33,248.40 L479.90,247.55 L480.47,246.71 L481.03,245.87 L481.60,245.04 L482.20,244.18 L482.80,243.32 L483.39,242.47 L483.99,241.62 L484.59,240.78 L485.18,239.95 L485.78,239.13 L486.37,238.31 L486.96,237.50 L487.56,236.69 L488.18,235.85 L488.80,235.02 L489.42,234.20 L490.04,233.38 L490.66,232.56 L491.28,231.76 L491.90,230.96 L492.52,230.16 L493.14,229.37 L493.79,228.55 L494.43,227.74 L495.08,226.94 L495.73,226.13 L496.37,225.34 L497.02,224.55 L497.66,223.77 L498.31,222.99 L498.95,222.22 L499.62,221.43 L500.29,220.63 L500.97,219.85 L501.64,219.07 L502.31,218.29 L502.98,217.52 L503.66,216.76 L504.33,216.01 L505.00,215.26 L505.67,214.51 L506.37,213.74 L507.07,212.98 L507.77,212.22 L508.47,211.47 L509.17,210.72 L509.87,209.98 L510.58,209.24 L511.28,208.52 L511.98,207.79 L512.68,207.08 L513.41,206.34 L514.14,205.60 L514.88,204.87 L515.61,204.15 L516.34,203.44 L517.07,202.72 L517.80,202.02 L518.54,201.32 L519.27,200.63 L520.00,199.94 L520.74,199.26 L521.50,198.56 L522.27,197.86 L523.03,197.17 L523.79,196.48 L524.56,195.80 L525.32,195.13 L526.09,194.46 L526.85,193.79 L527.62,193.14 L528.39,192.48 L529.15,191.83 L529.95,191.17 L530.74,190.51 L531.54,189.85 L532.34,189.20 L533.13,188.55 L533.93,187.91 L534.73,187.28 L535.52,186.65 L536.32,186.02 L537.12,185.40 L537.91,184.79 L538.71,184.18 L539.51,183.57 L540.33,182.95 L541.16,182.33 L541.99,181.72 L542.81,181.11 L543.64,180.51 L544.47,179.91 L545.29,179.31 L546.12,178.72 L546.95,178.14 L547.77,177.55 L548.60,176.98 L549.43,176.40 L550.25,175.84 L551.08,175.27 L551.93,174.69 L552.79,174.11 L553.64,173.54 L554.50,172.97 L555.35,172.41 L556.21,171.85 L557.06,171.29 L557.92,170.74 L558.77,170.19 L559.63,169.65 L560.48,169.11 L561.34,168.57 L562.19,168.04 L563.04,167.51 L563.90,166.99 L564.75,166.46 L565.63,165.93 L566.52,165.40 L567.40,164.87 L568.28,164.34 L569.17,163.82 L570.05,163.31 L570.93,162.79 L571.81,162.28 L572.70,161.77 L573.58,161.27 L574.46,160.77 L575.34,160.28 L576.23,159.78 L577.11,159.29 L577.99,158.81 L578.87,158.33 L579.75,157.85 L580.64,157.37 L581.52,156.90 L582.43,156.41 L583.34,155.93 L584.25,155.45 L585.17,154.98 L586.08,154.51 L586.99,154.04 L587.90,153.58 L588.81,153.12 L589.72,152.66 L590.64,152.20 L591.55,151.75 L592.46,151.30 L593.37,150.86 L594.29,150.42 L595.20,149.98 L596.11,149.54 L597.02,149.11 L597.94,148.68 L598.85,148.26 L599.76,147.83 L600.67,147.41 L601.59,147.00 L602.50,146.58 L603.41,146.17 L604.33,145.76 L605.27,145.35 L606.21,144.93 L607.15,144.52 L608.10,144.11 L609.04,143.70 L609.98,143.30 L610.92,142.90 L611.87,142.50 L612.81,142.11 L613.75,141.72 L614.70,141.33 L615.64,140.94 L616.58,140.56 L617.53,140.18 L618.47,139.80 L619.41,139.43 L620.36,139.05 L621.30,138.68 L622.24,138.32 L623.19,137.95 L624.13,137.59 L625.07,137.23 L626.02,136.87 L626.96,136.51 L627.90,136.16 L628.85,135.81 L629.79,135.46 L630.73,135.12 L631.68,134.77 L632.62,134.43 L633.56,134.09 L634.51,133.75 L635.45,133.42 L636.39,133.09 L637.37,132.74 L638.34,132.40 L639.31,132.07 L640.28,131.73 L641.26,131.40 L642.23,131.07 L643.20,130.74 L644.17,130.41 L645.15,130.09 L646.12,129.77 L647.09,129.45 L648.06,129.13 L649.03,128.81 L650.01,128.50 L650.98,128.19 L651.95,127.87 L652.92,127.57 L653.89,127.26 L654.87,126.96 L655.84,126.65 L656.81,126.35 L657.78,126.05 L658.75,125.76 L659.73,125.46 L660.70,125.17 L661.67,124.88 L662.64,124.59 L663.61,124.30 L664.59,124.01 L665.56,123.73 L666.53,123.45 L667.50,123.16 L668.47,122.89 L669.45,122.61 L670.42,122.33 L671.39,122.06 L672.36,121.79 L672.89,121.64" stroke="#000000"/>
<path d="M83.76,106.75 L84.71,107.16 L85.65,107.57 L86.59,107.99 L87.53,108.40 L88.47,108.82 L89.41,109.24 L90.35,109.67 L91.29,110.09 L92.20,110.51 L93.11,110.92 L94.01,111.34 L94.92,111.77 L95.83,112.19 L96.74,112.62 L97.65,113.04 L98.56,113.47 L99.47,113.91 L100.38,114.34 L101.29,114.78 L102.19,115.22 L103.10,115.66 L104.01,116.11 L104.92,116.56 L105.82,117.01 L106.73,117.46 L107.64,117.91 L108.55,118.37 L109.45,118.83 L110.36,119.29 L111.27,119.75 L112.17,120.22 L113.08,120.69 L113.99,121.16 L114.89,121.63 L115.80,122.10 L116.71,122.58 L117.61,123.06 L118.52,123.54 L119.42,124.03 L120.33,124.51 L121.24,125.00 L122.14,125.49 L123.05,125.99 L123.95,126.48 L124.83,126.97 L125.71,127.45 L126.59,127.94 L127.46,128.42 L128.34,128.91 L129.22,129.41 L130.10,129.90 L130.97,130.40 L131.85,130.89 L132.73,131.39 L133.61,131.90 L134.49,132.40 L135.37,132.91 L136.25,133.42 L137.13,133.93 L138.01,134.44 L138.89,134.95 L139.77,135.47 L140.65,135.99 L141.53,136.51 L142.41,137.03 L143.29,137.56 L144.18,138.08 L145.06,138.61 L145.94,139.14 L146.83,139.67 L147.71,140.21 L148.56,140.73 L149.42,141.25 L150.28,141.77 L151.13,142.30 L151.99,142.83 L152.85,143.36 L153.70,143.89 L154.56,144.43 L155.42,144.96 L156.28,145.50 L157.14,146.04 L158.00,146.59 L158.86,147.14 L159.72,147.69 L160.58,148.24 L161.44,148.79 L162.30,149.35 L163.16,149.91 L164.02,150.47 L164.88,151.04 L165.74,151.61 L166.60,152.18 L167.44,152.73 L168.27,153.29 L169.10,153.85 L169.94,154.42 L170.77,154.98 L171.60,155.55 L172.43,156.13 L173.27,156.70 L174.10,157.29 L174.93,157.87 L175.77,158.46 L176.60,159.05 L177.43,159.64 L178.27,160.24 L179.10,160.84 L179.93,161.44 L180.76,162.05 L181.60,162.66 L182.43,163.28 L183.23,163.88 L184.03,164.48 L184.83,165.08 L185.64,165.69 L186.44,166.31 L187.24,166.92 L188.04,167.54 L188.84,168.17 L189.64,168.80 L190.44,169.43 L191.24,170.07 L192.04,170.71 L192.84,171.35 L193.64,172.00 L194.43,172.65 L195.23,173.31 L196.03,173.97 L196.80,174.61 L197.57,175.26 L198.33,175.91 L199.10,176.56 L199.87,177.22 L200.63,177.88 L201.40,178.54 L202.16,179.21 L202.93,179.88 L203.69,180.56 L204.46,181.24 L205.22,181.93 L205.99,182.62 L206.75,183.31 L207.52,184.01 L208.28,184.71 L209.02,185.39 L209.75,186.08 L210.48,186.76 L211.22,187.46 L211.95,188.15 L212.68,188.85 L213.42,189.55 L214.15,190.26 L214.88,190.97 L215.62,191.69 L216.35,192.41 L217.08,193.14 L217.82,193.86 L218.55,194.60 L219.28,195.33 L219.99,196.05 L220.69,196.76 L221.40,197.48 L222.10,198.21 L222.81,198.93 L223.51,199.67 L224.21,200.40 L224.92,201.14 L225.62,201.89 L226.33,202.64 L227.03,203.39 L227.74,204.15 L228.44,204.91 L229.15,205.67 L229.83,206.41 L230.50,207.15 L231.18,207.90 L231.86,208.65 L232.53,209.41 L233.21,210.17 L233.89,210.93 L234.57,211.70 L235.25,212.47 L235.92,213.24 L236.60,214.03 L237.28,214.81 L237.96,215.60 L238.64,216.39 L239.29,217.16 L239.94,217.93 L240.59,218.70 L241.24,219.48 L241.89,220.26 L242.55,221.04 L243.20,221.84 L243.85,222.63 L244.50,223.43 L245.15,224.23 L245.81,225.04 L246.46,225.86 L247.11,226.68 L247.73,227.46 L248.36,228.25 L248.98,229.05 L249.60,229.85 L250.23,230.65 L250.85,231.46 L251.48,232.27 L252.10,233.09 L252.72,233.92 L253.35,234.74 L253.97,235.58 L254.60,236.41 L255.22,237.26 L255.82,238.06 L256.41,238.88 L257.00,239.69 L257.60,240.52 L258.19,241.34 L258.79,242.17 L259.38,243.01 L259.97,243.85 L260.57,244.70 L261.16,245.55 L261.75,246.40 L262.35,247.27 L262.94,248.13 L263.50,248.96 L264.06,249.79 L264.63,250.63 L265.19,251.47 L265.75,252.32 L266.31,253.17 L266.87,254.03 L267.43,254.89 L268.00,255.75 L268.56,256.63 L269.12,257.50 L269.68,258.38 L270.23,259.27 L270.79,260.16 L271.32,261.01 L271.85,261.86 L272.38,262.72 L272.91,263.58 L273.44,264.45 L273.97,265.32 L274.49,266.20 L275.02,267.08 L275.55,267.96 L276.07,268.85 L276.60,269.74 L277.13,270.64 L277.65,271.54 L278.18,272.45 L278.71,273.36 L279.23,274.28 L279.73,275.15 L280.22,276.02 L280.72,276.89 L281.22,277.77 L281.71,278.66 L282.21,279.55 L282.70,280.44 L283.20,281.33 L283.69,282.23 L284.19,283.13 L284.68,284.04 L285.18,284.95 L285.68,285.86 L286.17,286.78 L286.67,287.70 L287.16,288.62 L287.66,289.55 L288.15,290.47 L288.65,291.41 L289.15,292.34 L289.64,293.28 L290.11,294.16 L290.58,295.05 L291.04,295.94 L291.51,296.83 L291.98,297.72 L292.45,298.62 L292.91,299.52 L293.38,300.42 L293.85,301.32 L294.32,302.22 L294.79,303.12 L295.26,304.03 L295.72,304.93 L296.19,305.84 L296.66,306.74 L297.13,307.65 L297.60,308.56 L298.07,309.46 L298.54,310.37 L299.01,311.28 L299.48,312.19 L299.95,313.09 L300.42,314.00 L300.89,314.90 L301.36,315.80 L301.83,316.70 L302.30,317.60 L302.77,318.49 L303.25,319.39 L303.72,320.28 L304.19,321.16 L304.66,322.05 L305.16,322.98 L305.66,323.91 L306.16,324.83 L306.67,325.75 L307.17,326.66 L307.67,327.56 L308.17,328.46 L308.67,329.35 L309.18,330.23 L309.68,331.10 L310.21,332.01 L310.74,332.91 L311.27,333.80 L311.80,334.67 L312.34,335.53 L312.90,336.42 L313.46,337.30 L314.02,338.16 L314.58,338.99 L315.17,339.85 L315.76,340.69 L316.35,341.50 L316.97,342.33 L317.59,343.12 L318.24,343.92 L318.89,344.69 L319.57,345.45 L320.28,346.19 L321.02,346.92 L321.78,347.62 L322.58,348.28 L323.40,348.90 L324.26,349.46 L325.14,349.95 L326.05,350.37 L327.03,350.71 L328.03,350.94 L329.03,351.05 L330.06,351.03 L331.06,350.90 L332.03,350.66 L332.97,350.32 L333.88,349.89 L334.76,349.39 L335.62,348.83 L336.44,348.22 L337.23,347.56 L338.00,346.87 L338.74,346.15 L339.44,345.42 L340.12,344.68 L340.80,343.90 L341.45,343.12 L342.10,342.31 L342.72,341.51 L343.34,340.68 L343.93,339.87 L344.52,339.04 L345.11,338.19 L345.70,337.33 L346.26,336.49 L346.82,335.63 L347.39,334.76 L347.95,333.88 L348.48,333.03 L349.01,332.18 L349.55,331.31 L350.08,330.43 L350.61,329.55 L351.15,328.66 L351.68,327.76 L352.22,326.85 L352.75,325.94 L353.25,325.08 L353.76,324.21 L354.26,323.33 L354.77,322.46 L355.28,321.58 L355.78,320.69 L356.29,319.81 L356.79,318.92 L357.30,318.03 L357.80,317.14 L358.31,316.25 L358.81,315.36 L359.32,314.46 L359.83,313.57 L360.33,312.68 L360.84,311.79 L361.34,310.89 L361.85,310.00 L362.36,309.11 L362.86,308.22 L363.37,307.33 L363.87,306.45 L364.38,305.56 L364.88,304.68 L365.39,303.80 L365.89,302.92 L366.40,302.04 L366.90,301.16 L367.41,300.29 L367.91,299.42 L368.42,298.55 L368.92,297.69 L369.46,296.77 L369.99,295.86 L370.52,294.96 L371.06,294.06 L371.59,293.16 L372.12,292.26 L372.65,291.37 L373.19,290.48 L373.72,289.59 L374.25,288.71 L374.78,287.84 L375.31,286.96 L375.84,286.09 L376.37,285.23 L376.91,284.37 L377.44,283.51 L377.97,282.66 L378.50,281.81 L379.05,280.92 L379.61,280.03 L380.17,279.15 L380.73,278.27 L381.29,277.40 L381.85,276.53 L382.40,275.66 L382.96,274.81 L383.52,273.95 L384.08,273.10 L384.63,272.26 L385.19,271.41 L385.75,270.58 L386.30,269.75 L386.89,268.88 L387.47,268.01 L388.06,267.15 L388.64,266.30 L389.22,265.45 L389.81,264.60 L390.39,263.76 L390.98,262.93 L391.56,262.10 L392.14,261.27 L392.72,260.45 L393.31,259.64 L393.92,258.79 L394.53,257.94 L395.14,257.10 L395.75,256.27 L396.36,255.44 L396.97,254.61 L397.58,253.79 L398.19,252.98 L398.80,252.17 L399.41,251.36 L400.02,250.56 L400.63,249.77 L401.27,248.94 L401.91,248.12 L402.55,247.30 L403.18,246.49 L403.82,245.68 L404.46,244.88 L405.10,244.09 L405.73,243.30 L406.37,242.51 L407.01,241.73 L407.65,240.95 L408.29,240.18 L408.95,239.38 L409.62,238.59 L410.29,237.80 L410.95,237.02 L411.62,236.24 L412.29,235.46 L412.96,234.70 L413.63,233.93 L414.30,233.18 L414.96,232.43 L415.63,231.68 L416.33,230.90 L417.03,230.14 L417.73,229.37 L418.43,228.62 L419.13,227.87 L419.83,227.12 L420.53,226.38 L421.24,225.65 L421.94,224.92 L422.64,224.19 L423.34,223.47 L424.05,222.76 L424.78,222.02 L425.52,221.29 L426.25,220.56 L426.98,219.84 L427.72,219.12 L428.46,218.41 L429.19,217.71 L429.93,217.01 L430.66,216.31 L431.40,215.62 L432.14,214.94 L432.88,214.26 L433.62,213.59 L434.38,212.89 L435.15,212.20 L435.92,211.51 L436.69,210.83 L437.46,210.16 L438.23,209.48 L439.00,208.82 L439.77,208.16 L440.54,207.50 L441.31,206.85 L442.08,206.20 L442.85,205.56 L443.62,204.93 L444.42,204.27 L445.22,203.62 L446.02,202.97 L446.82,202.33 L447.63,201.69 L448.43,201.06 L449.23,200.43 L450.03,199.80 L450.83,199.18 L451.63,198.57 L452.43,197.96 L453.23,197.35 L454.04,196.75 L454.84,196.15 L455.67,195.53 L456.50,194.92 L457.33,194.31 L458.16,193.71 L458.99,193.11 L459.82,192.51 L460.65,191.92 L461.48,191.33 L462.31,190.75 L463.15,190.17 L463.98,189.59 L464.81,189.02 L465.64,188.45 L466.47,187.89 L467.30,187.33 L468.16,186.75 L469.01,186.18 L469.87,185.61 L470.73,185.05 L471.59,184.48 L472.45,183.93 L473.31,183.37 L474.17,182.82 L475.02,182.27 L475.88,181.73 L476.74,181.19 L477.60,180.65 L478.46,180.12 L479.31,179.59 L480.17,179.06 L481.03,178.53 L481.89,178.01 L482.74,177.50 L483.63,176.96 L484.51,176.44 L485.40,175.91 L486.29,175.39 L487.17,174.87 L488.06,174.35 L488.94,173.84 L489.83,173.33 L490.71,172.83 L491.60,172.32 L492.49,171.82 L493.37,171.33 L494.26,170.84 L495.14,170.35 L496.03,169.86 L496.91,169.37 L497.80,168.89 L498.68,168.42 L499.57,167.94 L500.45,167.47 L501.34,167.00 L502.22,166.53 L503.14,166.06 L504.05,165.58 L504.97,165.11 L505.88,164.64 L506.80,164.17 L507.71,163.71 L508.63,163.25 L509.54,162.80 L510.46,162.34 L511.37,161.89 L512.29,161.44 L513.20,161.00 L514.12,160.56 L515.03,160.12 L515.95,159.68 L516.86,159.25 L517.78,158.82 L518.69,158.39 L519.61,157.97 L520.52,157.55 L521.44,157.13 L522.36,156.71 L523.27,156.30 L524.19,155.89 L525.10,155.48 L526.02,155.08 L526.94,154.67 L527.88,154.26 L528.83,153.85 L529.77,153.44 L530.72,153.04 L531.66,152.64 L532.61,152.24 L533.56,151.84 L534.50,151.45 L535.45,151.05 L536.39,150.66 L537.34,150.28 L538.28,149.89 L539.23,149.51 L540.18,149.13 L541.12,148.75 L542.07,148.38 L543.01,148.00 L543.96,147.63 L544.90,147.26 L545.85,146.90 L546.79,146.53 L547.74,146.17 L548.68,145.81 L549.63,145.45 L550.57,145.09 L551.52,144.74 L552.46,144.39 L553.41,144.04 L554.35,143.69 L555.30,143.34 L556.24,142.99 L557.18,142.65 L558.13,142.31 L559.07,141.97 L560.02,141.63 L560.96,141.29 L561.90,140.96 L562.85,140.62 L563.79,140.29 L564.76,139.95 L565.74,139.61 L566.71,139.27 L567.68,138.93 L568.65,138.60 L569.62,138.27 L570.60,137.93 L571.57,137.60 L572.54,137.28 L573.51,136.95 L574.48,136.62 L575.45,136.30 L576.42,135.97 L577.39,135.65 L578.36,135.33 L579.33,135.01 L580.30,134.69 L581.27,134.37 L582.24,134.06 L583.21,133.74 L584.18,133.43 L585.15,133.12 L586.12,132.81 L587.09,132.50 L588.06,132.19 L589.03,131.88 L590.00,131.57 L590.97,131.27 L591.94,130.97 L592.90,130.66 L593.87,130.36 L594.84,130.06 L595.81,129.76 L596.78,129.46 L597.74,129.16 L598.71,128.87 L599.68,128.57 L600.65,128.28 L601.62,127.99 L602.58,127.70 L603.55,127.41 L604.52,127.12 L605.49,126.83 L606.46,126.54 L607.42,126.26 L608.39,125.98 L609.36,125.69 L610.33,125.41 L611.30,125.13 L612.26,124.86 L613.23,124.58 L614.20,124.30 L615.17,124.03 L616.14,123.76 L617.10,123.49 L618.07,123.22 L619.04,122.95 L620.01,122.69 L620.98,122.42 L621.95,122.16 L622.92,121.90 L623.89,121.64 L624.86,121.39 L625.83,121.13 L626.80,120.88 L627.77,120.63 L628.74,120.38 L629.71,120.13 L630.68,119.88 L631.65,119.64 L632.62,119.40 L633.59,119.16 L634.59,118.91 L635.59,118.66 L636.59,118.42 L637.59,118.18 L638.59,117.94 L639.59,117.71 L640.59,117.47 L641.59,117.24 L642.60,117.00 L643.60,116.77 L644.60,116.55 L645.60,116.32 L646.60,116.09 L647.61,115.87 L648.61,115.65 L649.61,115.43 L650.61,115.21 L651.61,114.99 L652.62,114.78 L653.62,114.56 L654.62,114.35 L655.62,114.14 L656.63,113.93 L657.63,113.72 L658.63,113.51 L659.64,113.31 L660.64,113.10 L661.64,112.90 L662.64,112.69 L663.65,112.49 L664.65,112.29 L665.65,112.09 L666.66,111.90 L667.66,111.70 L668.66,111.50 L669.66,111.31 L670.67,111.12 L671.67,110.92 L672.67,110.73 L672.85,110.70" stroke="#FF0000"/>
</g>
<g font-size="22.2"><path d="M296.75,31.3 L364.5,31.3" stroke="#00B050" stroke-width="4.5" stroke-linecap="round" fill="none"/><text x="371.4" y="38.50" textLength="208.9" lengthAdjust="spacingAndGlyphs">Sample 3 (measured)</text><path d="M296.75,61.0 L364.5,61.0" stroke="#4472C4" stroke-width="4.5" stroke-linecap="round" stroke-dasharray="7.9 8.1" fill="none"/><text x="371.4" y="68.00" textLength="217.6" lengthAdjust="spacingAndGlyphs">0.035 mm (simulated)</text><path d="M296.75,90.3 L364.5,90.3" stroke="#000000" stroke-width="4.5" stroke-linecap="round" fill="none"/><text x="371.4" y="97.70" textLength="205.2" lengthAdjust="spacingAndGlyphs">0.05 mm (simulated)</text><path d="M296.75,120.0 L364.5,120.0" stroke="#FF0000" stroke-width="4.5" stroke-linecap="round" fill="none"/><text x="371.4" y="127.30" textLength="192.8" lengthAdjust="spacingAndGlyphs">0.1 mm (simulated)</text></g>
</svg>
</body></html>
